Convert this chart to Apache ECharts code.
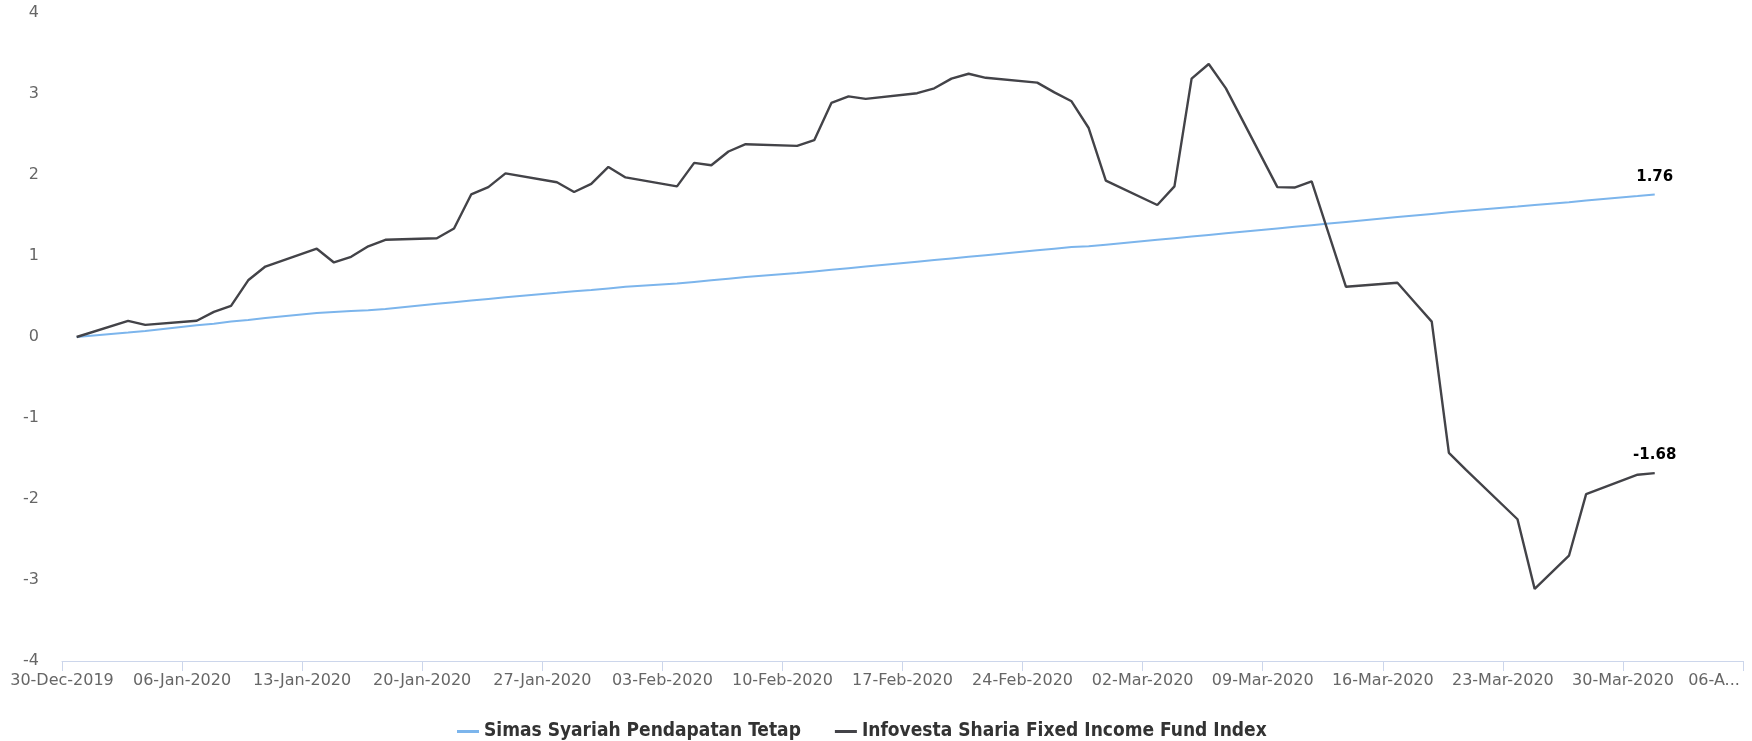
<!DOCTYPE html>
<html>
<head>
<meta charset="utf-8">
<title>Simas Syariah Pendapatan Tetap vs Infovesta Sharia Fixed Income Fund Index</title>
<script src="https://cdn.jsdelivr.net/npm/echarts@6/dist/echarts.min.js"></script>
<style>
  html, body { margin: 0; padding: 0; background: #ffffff; }
  #chart { width: 1752px; height: 741px; }
</style>
</head>
<body>
<div id="chart"></div>
<script>
// Trading days (IDX calendar) and cumulative return in percent
const dates = [
  '2019-12-30', '2020-01-02', '2020-01-03', '2020-01-06', '2020-01-07', '2020-01-08', '2020-01-09', '2020-01-10',
  '2020-01-13', '2020-01-14', '2020-01-15', '2020-01-16', '2020-01-17', '2020-01-20', '2020-01-21', '2020-01-22',
  '2020-01-23', '2020-01-24', '2020-01-27', '2020-01-28', '2020-01-29', '2020-01-30', '2020-01-31', '2020-02-03',
  '2020-02-04', '2020-02-05', '2020-02-06', '2020-02-07', '2020-02-10', '2020-02-11', '2020-02-12', '2020-02-13',
  '2020-02-14', '2020-02-17', '2020-02-18', '2020-02-19', '2020-02-20', '2020-02-21', '2020-02-24', '2020-02-25',
  '2020-02-26', '2020-02-27', '2020-02-28', '2020-03-02', '2020-03-03', '2020-03-04', '2020-03-05', '2020-03-06',
  '2020-03-09', '2020-03-10', '2020-03-11', '2020-03-12', '2020-03-13', '2020-03-16', '2020-03-17', '2020-03-18',
  '2020-03-19', '2020-03-20', '2020-03-23', '2020-03-24', '2020-03-26', '2020-03-27', '2020-03-30', '2020-03-31'
];

const simasSyariah = [
  0.00, 0.055, 0.075, 0.145, 0.165, 0.19, 0.21, 0.235,
  0.295, 0.31, 0.32, 0.33, 0.345, 0.41, 0.43, 0.45,
  0.47, 0.49, 0.545, 0.565, 0.58, 0.60, 0.62, 0.66,
  0.68, 0.70, 0.72, 0.74, 0.79, 0.81, 0.83, 0.85,
  0.87, 0.93, 0.95, 0.97, 0.99, 1.01, 1.07, 1.09,
  1.11, 1.12, 1.14, 1.20, 1.22, 1.24, 1.26, 1.28,
  1.34, 1.36, 1.38, 1.40, 1.42, 1.48, 1.50, 1.52,
  1.54, 1.56, 1.61, 1.63, 1.665, 1.685, 1.74, 1.76
];

const infovestaIndex = [
  0.00, 0.20, 0.15, 0.20, 0.31, 0.385, 0.70, 0.87,
  1.09, 0.92, 0.99, 1.12, 1.20, 1.22, 1.34, 1.76,
  1.85, 2.02, 1.91, 1.79, 1.89, 2.10, 1.97, 1.86,
  2.15, 2.12, 2.29, 2.38, 2.36, 2.43, 2.89, 2.97,
  2.94, 3.01, 3.07, 3.19, 3.25, 3.20, 3.14, 3.02,
  2.91, 2.58, 1.93, 1.63, 1.86, 3.19, 3.37, 3.07,
  1.85, 1.845, 1.92, 1.27, 0.62, 0.67, 0.43, 0.19,
  -1.43, -1.64, -2.25, -3.11, -2.70, -1.94, -1.70, -1.68
];

const seriesNames = ['Simas Syariah Pendapatan Tetap', 'Infovesta Sharia Fixed Income Fund Index'];
const seriesColors = ['#7cb5ec', '#434348'];
const monthNames = ['Jan', 'Feb', 'Mar', 'Apr', 'May', 'Jun', 'Jul', 'Aug', 'Sep', 'Oct', 'Nov', 'Dec'];

// Axis range: 30-Dec-2019 to 06-Apr-2020, one tick per week
const axisStart = '2019-12-30';
const axisWeeks = 14;

const DAY = 86400000;
const parseUTC = s => { const p = s.split('-').map(Number); return Date.UTC(p[0], p[1] - 1, p[2]); };
const origin = parseUTC(axisStart);
const stampHour = 20.5; // NAV stamps fall late in the trading day
const toDay = s => (parseUTC(s) - origin) / DAY + stampHour / 24;
const axisMax = axisWeeks * 7;

function dateLabel(dayValue) {
  const d = new Date(origin + Math.round(dayValue) * DAY);
  const dd = String(d.getUTCDate()).padStart(2, '0');
  return dd + '-' + monthNames[d.getUTCMonth()] + '-' + d.getUTCFullYear();
}

// Only the latest point of each series carries a value label
function buildData(values) {
  return values.map((v, i) => {
    const item = { value: [toDay(dates[i]), v] };
    if (i === values.length - 1) {
      item.label = { show: true };
    }
    return item;
  });
}

const axisFont = 'DejaVu Sans';
const legendFont = 'DejaVu Sans Condensed';

const chart = echarts.init(document.getElementById('chart'), null, { renderer: 'canvas' });

chart.setOption({
  animation: false,
  backgroundColor: '#ffffff',
  grid: { left: 62, right: 9, top: 13, bottom: 80, containLabel: false },
  legend: {
    data: seriesNames,
    left: 457,
    top: 722,
    padding: 0,
    icon: 'rect',
    itemWidth: 22,
    itemHeight: 3,
    itemGap: 34,
    textStyle: { fontFamily: legendFont, fontWeight: 'bold', fontSize: 19, color: '#333333' }
  },
  xAxis: {
    type: 'value',
    min: 0,
    max: axisMax,
    interval: 7,
    axisLine: { show: true, onZero: false, lineStyle: { color: '#ccd6eb', width: 1 } },
    axisTick: { show: true, length: 10, lineStyle: { color: '#ccd6eb' } },
    splitLine: { show: false },
    axisLabel: {
      margin: 12,
      color: '#666666',
      fontFamily: axisFont,
      fontSize: 16,
      showMinLabel: true,
      showMaxLabel: true,
      hideOverlap: false,
      formatter: function (value) {
        const text = dateLabel(value);
        // the last label would run past the right edge, so it is shortened
        if (value >= axisMax) return '{cut|' + text.slice(0, 4) + '...}';
        return text;
      },
      rich: {
        cut: { color: '#666666', fontFamily: axisFont, fontSize: 16, padding: [0, 58, 0, 0] }
      }
    }
  },
  yAxis: {
    type: 'value',
    min: -4,
    max: 4,
    interval: 1,
    axisLine: { show: false },
    axisTick: { show: false },
    splitLine: { show: false },
    axisLabel: { margin: 23, color: '#666666', fontFamily: axisFont, fontSize: 16 }
  },
  series: [simasSyariah, infovestaIndex].map((values, k) => ({
    name: seriesNames[k],
    type: 'line',
    data: buildData(values),
    symbol: 'circle',
    symbolSize: 0,
    showSymbol: true,
    color: seriesColors[k],
    itemStyle: { color: seriesColors[k] },
    lineStyle: { color: seriesColors[k], width: k === 0 ? 2 : 2.4 },
    label: {
      show: false,
      position: 'top',
      distance: 10,
      color: '#000000',
      fontFamily: 'DejaVu Sans',
      fontWeight: 'bold',
      fontSize: 15,
      formatter: p => p.value[1].toFixed(2)
    },
    emphasis: { disabled: true }
  }))
});
</script>
</body>
</html>
